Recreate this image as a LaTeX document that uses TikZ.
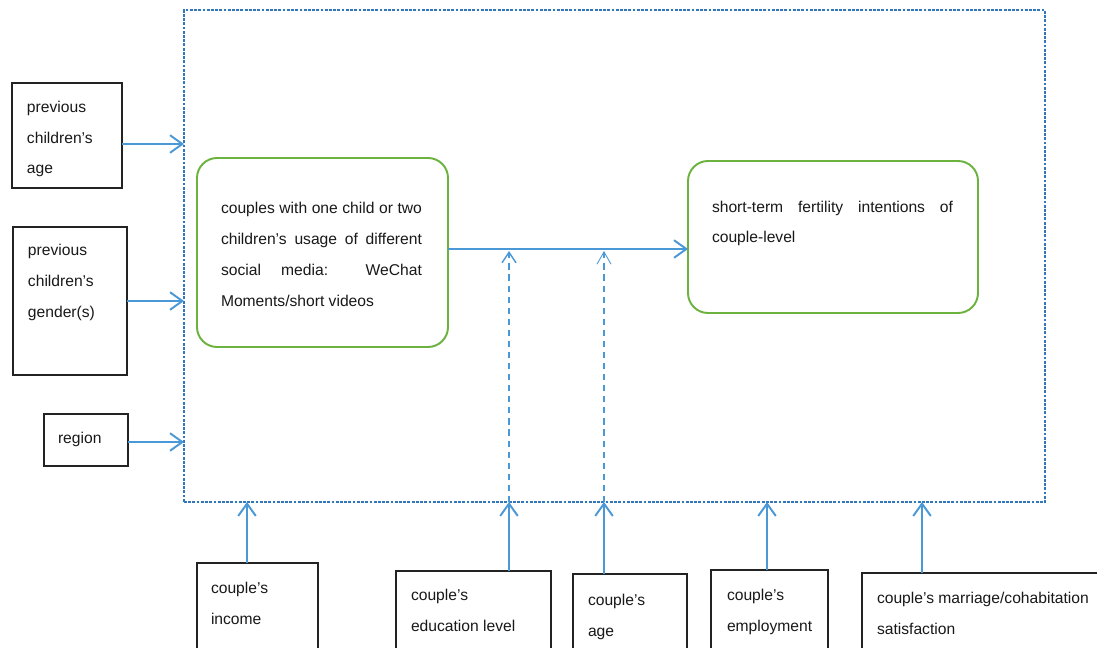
\documentclass[tikz,border=0pt]{standalone}
\usepackage{fontspec}
\setmainfont{Liberation Sans}
\usetikzlibrary{arrows.meta,fit}

\definecolor{flowblue}{RGB}{74,152,214}
\definecolor{frameblue}{RGB}{50,118,188}
\definecolor{boxgreen}{RGB}{108,178,62}
\definecolor{boxline}{RGB}{35,35,35}
\newcommand\spreadline[2]{\makebox[#1][s]{#2}}

\begin{document}
\begin{tikzpicture}[x=0.02cm, y=-0.02cm,
  every node/.style = {inner sep=0, outer sep=0},
  plain box/.style = {draw=boxline, line width=0.7pt, fit={#1}},
  green box/.style = {draw=boxgreen, line width=1.1pt, rounded corners=0.4cm, fit={#1}},
  frame box/.style = {draw=frameblue, line width=0.6pt, dash pattern=on 1.6pt off 0.8pt, fit={#1}},
  lbl/.style = {anchor=base west, align=left, text=black!90,
    font=\fontsize{8.9}{17.6}\selectfont},
  flow/.style = {draw=flowblue, line width=1.1pt, -{Straight Barb[length=7pt,width=10pt]}},
  link/.style = {draw=flowblue, line width=0.8pt, dash pattern=on 3.5pt off 2.8pt,
    -{Straight Barb[length=6pt,width=8pt]}}]
  \useasboundingbox (0,0) rectangle (1097,648);
  \fill[white] (0,0) rectangle (1097,648);
  \clip (0,0) rectangle (1097,648);

  \node[frame box={(184,10) (1045,502)}] (frame) {};

  \node[plain box={(12,83) (122,188)}] (agebox) {};
  \node[lbl] (agetext) at (27,174) {previous\\children’s\\age};
  \node[plain box={(13,227) (127,375)}] (genderbox) {};
  \node[lbl] (gendertext) at (28,317) {previous\\children’s\\gender(s)};
  \node[plain box={(44,414) (128,466)}] (regionbox) {};
  \node[lbl] (regiontext) at (58,443) {region};

  \node[green box={(197,158) (448,347)}] (mediabox) {};
  \node[lbl] (mediatext) at (221,306) {\spreadline{4.02cm}{couples with one child or two}\\
    \spreadline{4.02cm}{children’s usage of different}\\
    \spreadline{4.02cm}{social media: WeChat}\\
    Moments/short videos};
  \node[green box={(688,161) (978,313)}] (intentbox) {};
  \node[lbl] (intenttext) at (712,243) {\spreadline{4.82cm}{short-term fertility intentions of}\\
    couple-level};

  \node[plain box={(197,563) (318,670)}] (incomebox) {};
  \node[lbl] (incometext) at (211,624) {couple’s\\income};
  \node[plain box={(396,571) (551,670)}] (edubox) {};
  \node[lbl] (edutext) at (411,631) {couple’s\\education level};
  \node[plain box={(573,574) (687,670)}] (cagebox) {};
  \node[lbl] (cagetext) at (588,636) {couple’s\\age};
  \node[plain box={(711,570) (828,670)}] (jobbox) {};
  \node[lbl] (jobtext) at (727,631) {couple’s\\employment};
  \node[plain box={(862,573) (1120,670)}] (marriagebox) {};
  \node[lbl] (marriagetext) at (877,634) {couple’s marriage/cohabitation\\satisfaction};

  \draw[flow] (agebox.east |- 0,144) -- (frame.west |- 0,144);
  \draw[flow] (genderbox.east |- 0,301) -- (frame.west |- 0,301);
  \draw[flow] (regionbox.east |- 0,442) -- (frame.west |- 0,442);
  \draw[flow] (mediabox.east |- 0,249) -- (intentbox.west |- 0,249);

  \draw[link] (frame.south -| 509,0) -- (509,251);
  \draw[link, -{Straight Barb[length=7pt,width=8pt,line width=0.5pt]}]
    (frame.south -| 604,0) -- (604,251);

  \draw[flow] (incomebox.north -| 247,0) -- (frame.south -| 247,0);
  \draw[flow] (edubox.north -| 509,0) -- (frame.south -| 509,0);
  \draw[flow] (cagebox.north -| 604,0) -- (frame.south -| 604,0);
  \draw[flow] (jobbox.north -| 767,0) -- (frame.south -| 767,0);
  \draw[flow] (marriagebox.north -| 922,0) -- (frame.south -| 922,0);
\end{tikzpicture}
\end{document}
